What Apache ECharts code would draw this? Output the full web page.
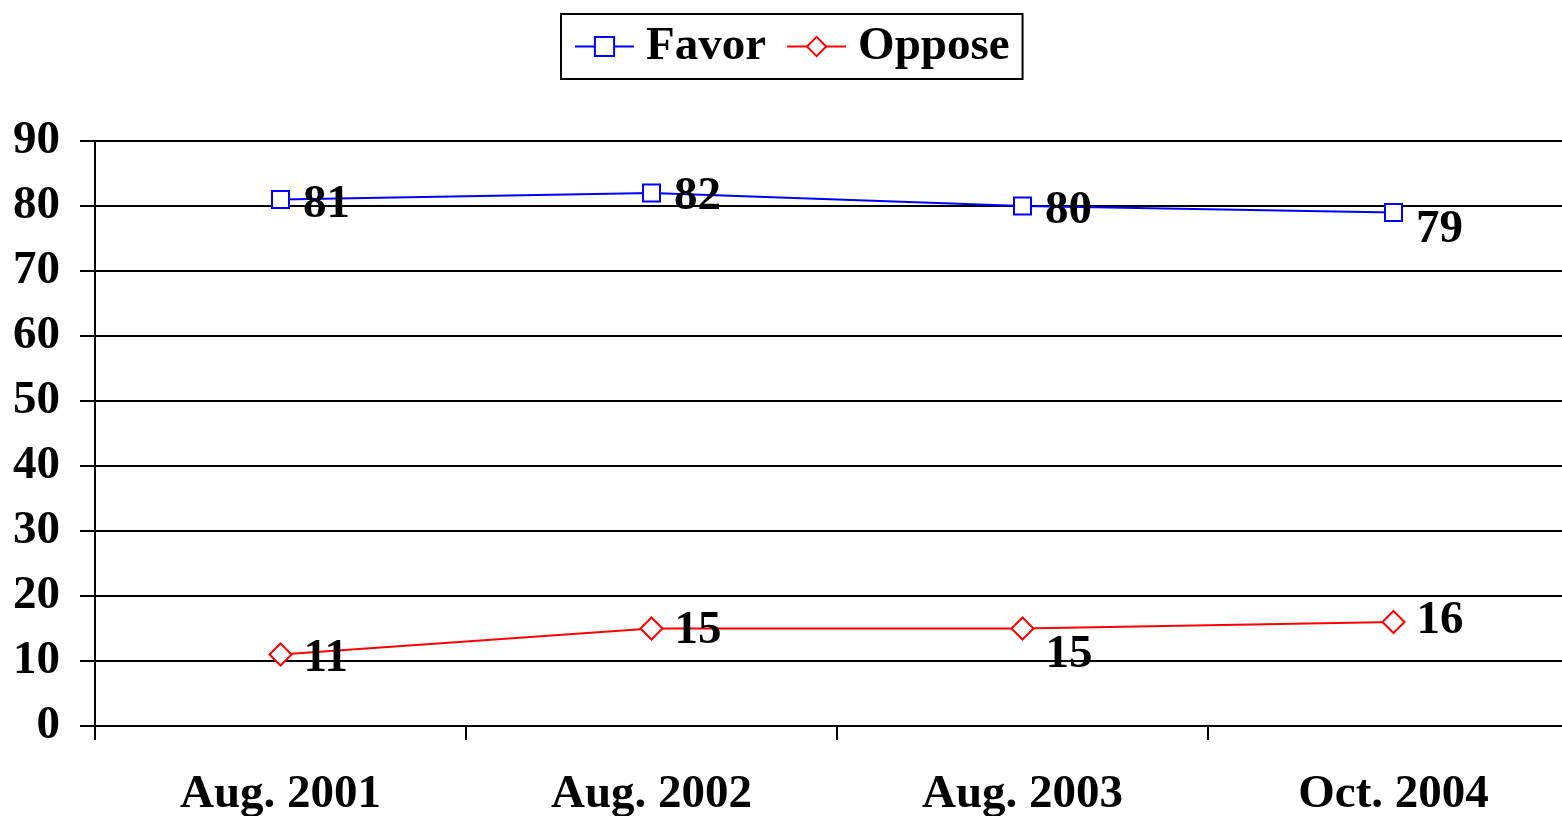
<!DOCTYPE html>
<html>
<head>
<meta charset="utf-8">
<script src="https://cdn.jsdelivr.net/npm/echarts@6/dist/echarts.min.js"></script>
<style>
html,body{margin:0;padding:0;background:#fff;}
#chart{width:1562px;height:816px;}
</style>
</head>
<body>
<div id="chart"></div>
<script>
var categories = ['Aug. 2001', 'Aug. 2002', 'Aug. 2003', 'Oct. 2004'];
var favor = [81, 82, 80, 79];
var oppose = [11, 15, 15, 16];
var yTicks = [0, 10, 20, 30, 40, 50, 60, 70, 80, 90];

// label vertical nudges (style only)
var favorLabelDy = [5, 4, 5, 17];
var opposeLabelDy = [4, 2, 26, -1];

var FONT = 'Liberation Serif, Times New Roman, serif';
var FS = 47;

function withLabels(vals, dys) {
  return vals.map(function (v, i) {
    return { value: v, label: { offset: [0, dys[i]] } };
  });
}

var chart = echarts.init(document.getElementById('chart'), null, { renderer: 'canvas' });
chart.setOption({
  animation: false,
  backgroundColor: '#fff',
  legend: {
    left: 561,
    top: 14,
    padding: [9, 13, 9, 13],
    borderColor: '#000',
    borderWidth: 2,
    itemGap: 20,
    itemWidth: 59,
    itemHeight: 24,
    textStyle: { fontFamily: FONT, fontWeight: 'bold', fontSize: FS, color: '#000', padding: [7, 0, 0, 7] },
    data: ['Favor', 'Oppose']
  },
  grid: { left: 95, right: -17, top: 141, bottom: 90, containLabel: false, outerBoundsMode: 'none' },
  xAxis: {
    type: 'category',
    data: categories,
    boundaryGap: true,
    axisLine: { show: true, lineStyle: { color: '#000', width: 2 } },
    axisTick: { show: true, length: 14, lineStyle: { color: '#000', width: 2 } },
    axisLabel: { margin: 45, fontFamily: FONT, fontWeight: 'bold', fontSize: FS, color: '#000' },
    splitLine: { show: false }
  },
  yAxis: {
    type: 'value',
    min: yTicks[0],
    max: yTicks[yTicks.length - 1],
    interval: yTicks[1] - yTicks[0],
    axisLine: { show: true, lineStyle: { color: '#000', width: 2 } },
    axisTick: { show: true, length: 15, lineStyle: { color: '#000', width: 2 } },
    axisLabel: { margin: 35, fontFamily: FONT, fontWeight: 'bold', fontSize: FS, color: '#000' },
    splitLine: { show: true, lineStyle: { color: '#000', width: 2 } }
  },
  series: [
    {
      name: 'Favor',
      type: 'line',
      data: withLabels(favor, favorLabelDy),
      symbol: 'rect',
      symbolSize: 17,
      lineStyle: { color: '#0000ff', width: 2 },
      itemStyle: { color: '#fff', borderColor: '#0000ff', borderWidth: 2 },
      label: { show: true, position: 'right', distance: 13, fontFamily: FONT, fontWeight: 'bold', fontSize: FS, color: '#000' },
      z: 3
    },
    {
      name: 'Oppose',
      type: 'line',
      data: withLabels(oppose, opposeLabelDy),
      symbol: 'diamond',
      symbolSize: 22,
      lineStyle: { color: '#ff0000', width: 2 },
      itemStyle: { color: '#fff', borderColor: '#ff0000', borderWidth: 2 },
      label: { show: true, position: 'right', distance: 11, fontFamily: FONT, fontWeight: 'bold', fontSize: FS, color: '#000' },
      z: 3
    }
  ]
});
</script>
</body>
</html>
